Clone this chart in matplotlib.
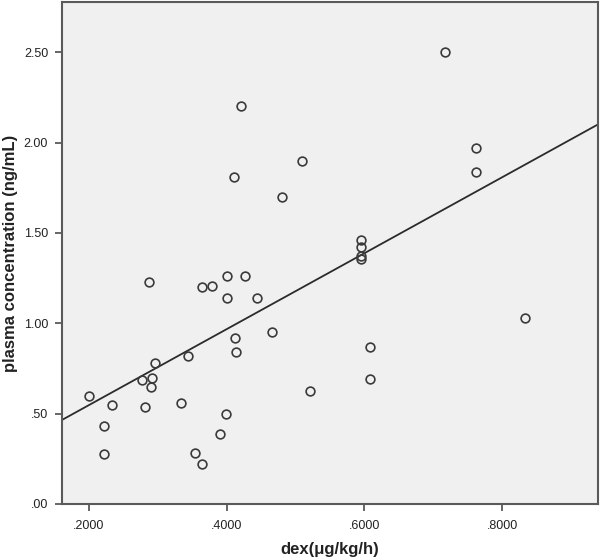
import numpy as np
import matplotlib
matplotlib.use("Agg")
import matplotlib.pyplot as plt
from matplotlib.ticker import FuncFormatter

plt.rcParams['font.family'] = ['Liberation Sans', 'DejaVu Sans']

dex = [0.287, 0.296, 0.277, 0.291, 0.290, 0.200, 0.234, 0.282, 0.222, 0.222,
       0.364, 0.379, 0.400, 0.426, 0.400, 0.4445, 0.4125, 0.4135, 0.466, 0.344,
       0.333, 0.3995, 0.391, 0.3535, 0.364,
       0.421, 0.509, 0.411, 0.480,
       0.5955, 0.5955, 0.5955, 0.5955, 0.608, 0.608, 0.521,
       0.7175, 0.7617, 0.7617, 0.833]
plasma = [1.229, 0.779, 0.688, 0.699, 0.649, 0.599, 0.548, 0.539, 0.430, 0.278,
          1.199, 1.208, 1.260, 1.260, 1.140, 1.140, 0.919, 0.839, 0.950, 0.817,
          0.559, 0.498, 0.389, 0.280, 0.220,
          2.201, 1.900, 1.810, 1.701,
          1.461, 1.420, 1.372, 1.357, 0.869, 0.690, 0.627,
          2.500, 1.968, 1.839, 1.031]
x_ticks = [0.2, 0.4, 0.6, 0.8]
y_ticks = [0.0, 0.5, 1.0, 1.5, 2.0, 2.5]

x = np.array(dex)
y = np.array(plasma)

fig = plt.figure(figsize=(6, 5.58), dpi=100)
ax = fig.add_axes([0.1033, 0.0968, 0.8929, 0.8996])
ax.set_facecolor('#f0f0f0')

xmin, xmax = 0.1608, 0.939
ax.set_xlim(xmin, xmax)
ax.set_ylim(0, 2.778)

slope, intercept = np.polyfit(x, y, 1)
xl = np.array([xmin, xmax])
ax.plot(xl, intercept + slope * xl, color='#2b2b2b', lw=1.3, zorder=2)

ax.plot(x, y, linestyle='none', marker='o', markersize=6.3,
        markerfacecolor='none', markeredgecolor='#3a3a3a', markeredgewidth=1.2, zorder=3)

ax.set_xticks(x_ticks)
ax.set_yticks(y_ticks)

def fmt_x(v, pos):
    s = f"{v:.4f}"
    return s[1:] if s.startswith("0") else s

def fmt_y(v, pos):
    s = f"{v:.2f}"
    return s[1:] if s.startswith("0") else s

ax.xaxis.set_major_formatter(FuncFormatter(fmt_x))
ax.yaxis.set_major_formatter(FuncFormatter(fmt_y))

for s in ['left', 'bottom', 'right', 'top']:
    ax.spines[s].set_color('#5a5a5a')
    ax.spines[s].set_linewidth(1.5)

ax.tick_params(axis='both', direction='out', length=5, width=1.3, color='#5a5a5a',
               labelsize=9, labelcolor='#222222')
ax.tick_params(axis='x', pad=6.5)
ax.tick_params(axis='y', pad=5)
ax.tick_params(top=False, right=False)

ax.set_xlabel('dex(μg/kg/h)', fontsize=12, fontweight='bold', color='#222222')
ax.set_ylabel('plasma concentration (ng/mL)', fontsize=12, fontweight='bold', color='#222222')
ax.xaxis.label.set_va('center')
ax.yaxis.label.set_va('center')
ax.xaxis.set_label_coords(0.5, -0.0916)
ax.yaxis.set_label_coords(-0.097, 0.5)

fig.savefig('out.png', dpi=100, facecolor='white')
